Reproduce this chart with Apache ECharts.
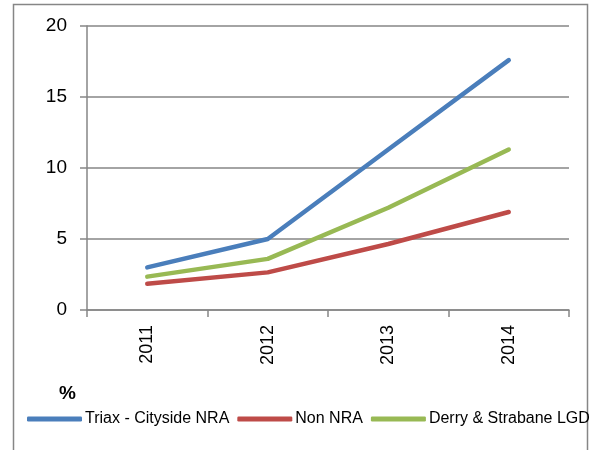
<!DOCTYPE html>
<html>
<head>
<meta charset="utf-8">
<script src="https://cdn.jsdelivr.net/npm/echarts@6/dist/echarts.min.js"></script>
<style>
  html, body { margin: 0; padding: 0; background: #fff; }
  #chart { width: 598px; height: 450px; }
</style>
</head>
<body>
<div id="chart"></div>
<script>
const years = ["2011", "2012", "2013", "2014"];
const triaxCityside = [3.0, 5.0, 11.3, 17.6];
const nonNra = [1.85, 2.65, 4.65, 6.9];
const derryStrabane = [2.35, 3.6, 7.2, 11.3];

const font = "'Liberation Sans', Arial, sans-serif";
const axisGrey = "#868686";

const chart = echarts.init(document.getElementById("chart"));

function line(name, data, color) {
  return {
    type: "line",
    name,
    data,
    showSymbol: false,
    symbol: "none",
    lineStyle: { color, width: 4.5, cap: "round", join: "round" },
    itemStyle: { color },
  };
}

chart.setOption({
  animation: false,
  backgroundColor: "#fff",
  graphic: [
    {
      type: "rect",
      shape: { x: 13.5, y: 4.5, width: 574, height: 460 },
      style: { fill: "none", stroke: axisGrey, lineWidth: 1.5 },
      silent: true,
    },
    {
      type: "text",
      left: 59,
      top: 384,
      style: { text: "%", font: "bold 19px " + font, fill: "#000" },
    },
  ],
  grid: { left: 87, right: 29, top: 26, bottom: 140, containLabel: false },
  xAxis: {
    type: "category",
    data: years,
    boundaryGap: true,
    axisLine: { lineStyle: { color: axisGrey, width: 1.5 } },
    axisTick: { show: true, length: 7, lineStyle: { color: axisGrey, width: 1.5 } },
    axisLabel: {
      rotate: 90,
      margin: 15,
      color: "#000",
      fontSize: 18,
      fontFamily: font,
    },
  },
  yAxis: {
    type: "value",
    min: 0,
    max: 20,
    interval: 5,
    axisLine: { show: true, lineStyle: { color: axisGrey, width: 1.5 } },
    axisTick: { show: true, length: 7, lineStyle: { color: axisGrey, width: 1.5 } },
    axisLabel: { color: "#000", fontSize: 19, fontFamily: font, margin: 20 },
    splitLine: { lineStyle: { color: axisGrey, width: 1.5 } },
  },
  legend: {
    left: 22,
    top: 406,
    icon: "roundRect",
    itemWidth: 55,
    itemHeight: 5,
    itemGap: 8,
    textStyle: { color: "#000", fontSize: 16, fontFamily: font, padding: [0, 0, 0, -2] },
  },
  series: [
    line("Triax - Cityside NRA", triaxCityside, "#4a7ebb"),
    line("Non NRA", nonNra, "#be4b48"),
    line("Derry & Strabane LGD", derryStrabane, "#98b954"),
  ],
});
</script>
</body>
</html>
